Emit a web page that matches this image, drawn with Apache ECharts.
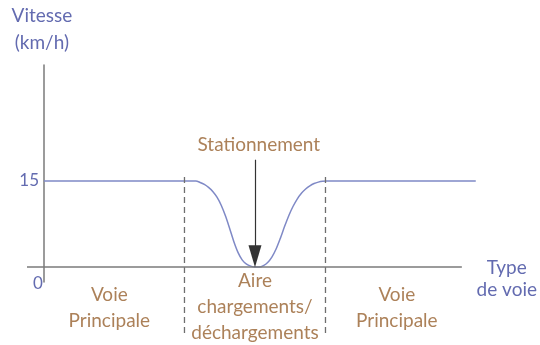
<!DOCTYPE html>
<html>
<head>
<meta charset="utf-8">
<script src="https://cdn.jsdelivr.net/npm/echarts@6/dist/echarts.min.js"></script>
<style>
  html, body { margin: 0; padding: 0; background: #fff; }
  #main { width: 540px; height: 345px; }
</style>
</head>
<body>
<div id="main"></div>
<script>
// speed profile along the road (x: position, y: speed km/h)
var profileX = [0, 33.3, 36, 37, 38, 39, 40, 41, 42, 43, 44, 45, 46, 47, 48, 49, 50,
    51, 52, 53, 54, 55, 56, 57, 58, 59, 60, 61, 62, 63, 64, 65, 66, 67, 102.3];
var profileY = [15, 15, 15, 14.74, 14.39, 13.87, 13.17, 12.17, 10.77, 8.92, 6.72, 4.42, 2.52, 1.22, 0.52, 0.17, 0,
    0, 0.25, 0.8, 1.75, 3.15, 5.0, 7.05, 8.95, 10.55, 11.85, 12.85, 13.6, 14.15, 14.55, 14.8, 14.95, 15, 15];

// section boundaries (dashed), drawn from top to bottom
var boundaries = [33.3, 66.7];
var boundaryTop = 15.7;
var boundaryBottom = -12.2;

// the horizontal axis line stops before the end of the curve
var xAxisFrom = -4;
var xAxisTo = 99;

// text under the axis
var sectionNames = ['Voie\nPrincipale', 'Aire\nchargements/\ndéchargements', 'Voie\nPrincipale'];
var sectionX = [15.5, 50, 83.6];
var sectionY = [-7.15, -7.0, -7.15];

var arrowLabel = 'Stationnement';
var arrowX = 50;

var yTicks = [15];
var xTicks = [0];

var blue = '#636bb0';
var brown = '#97612f';
var font = 'Lato';

var labelData = [];
for (var i = 0; i < sectionNames.length; i++) {
    labelData.push({ value: [sectionX[i], sectionY[i]], name: sectionNames[i] });
}
labelData.push({ value: [50.9, 21.3], name: arrowLabel });

var lineData = [];
for (var j = 0; j < profileX.length; j++) lineData.push([profileX[j], profileY[j]]);

var dashSeries = boundaries.map(function (b) {
    return {
        type: 'line',
        data: [[b, boundaryTop], [b, boundaryBottom]],
        showSymbol: false,
        clip: false,
        silent: true,
        lineStyle: { color: '#6e6e6e', width: 1.3, type: [6, 4] }
    };
});

var option = {
    animation: false,
    grid: { left: 27, right: 60, top: 65, bottom: 63 },
    xAxis: {
        type: 'value',
        min: -4,
        max: 102.3,
        name: 'Type\nde voie',
        nameLocation: 'end',
        nameGap: 31,
        nameTextStyle: { color: blue, fontFamily: font, fontSize: 19, align: 'center', verticalAlign: 'top', lineHeight: 22, padding: [-10, 0, 0, 0] },
        axisLine: { show: false },
        axisTick: { show: false },
        splitLine: { show: false },
        axisLabel: { customValues: xTicks, align: 'right', margin: -7, padding: [0, 1, 0, 0], color: blue, fontFamily: font, fontSize: 17 }
    },
    yAxis: {
        type: 'value',
        min: -2.6,
        max: 35.2,
        name: 'Vitesse\n(km/h)',
        nameLocation: 'end',
        nameGap: 9,
        nameTextStyle: { color: blue, fontFamily: font, fontSize: 19, align: 'center', lineHeight: 27, padding: [0, 4, 0, 0] },
        axisLine: { show: true, onZero: true, lineStyle: { color: '#7a7a7a', width: 1.5 } },
        axisTick: { show: false },
        splitLine: { show: false },
        axisLabel: { customValues: yTicks, margin: -12, color: blue, fontFamily: font, fontSize: 17 }
    },
    series: [
        {
            type: 'line',
            data: lineData,
            smooth: 0.3,
            showSymbol: false,
            clip: false,
            z: 3,
            lineStyle: { color: '#7f89c6', width: 1.5 },
            markLine: {
                silent: true,
                symbol: 'none',
                label: { show: false },
                lineStyle: { type: 'solid', color: '#333', width: 1.2 },
                data: [
                    [
                        { coord: [xAxisFrom, 0], lineStyle: { color: '#7a7a7a', width: 1.5 } },
                        { coord: [xAxisTo, 0] }
                    ],
                    [
                        { coord: [arrowX, 18.7], symbol: 'none' },
                        { coord: [arrowX, 1.9], symbol: 'triangle', symbolSize: [13, 22] }
                    ]
                ]
            }
        },
        {
            type: 'scatter',
            data: labelData,
            symbolSize: 0,
            clip: false,
            silent: true,
            label: {
                show: true,
                position: 'inside',
                formatter: '{b}',
                color: brown,
                fontFamily: font,
                fontSize: 19,
                lineHeight: 26,
                align: 'center'
            }
        }
    ].concat(dashSeries)
};

var myChart = echarts.init(document.getElementById('main'));
myChart.setOption(option);
</script>
</body>
</html>
